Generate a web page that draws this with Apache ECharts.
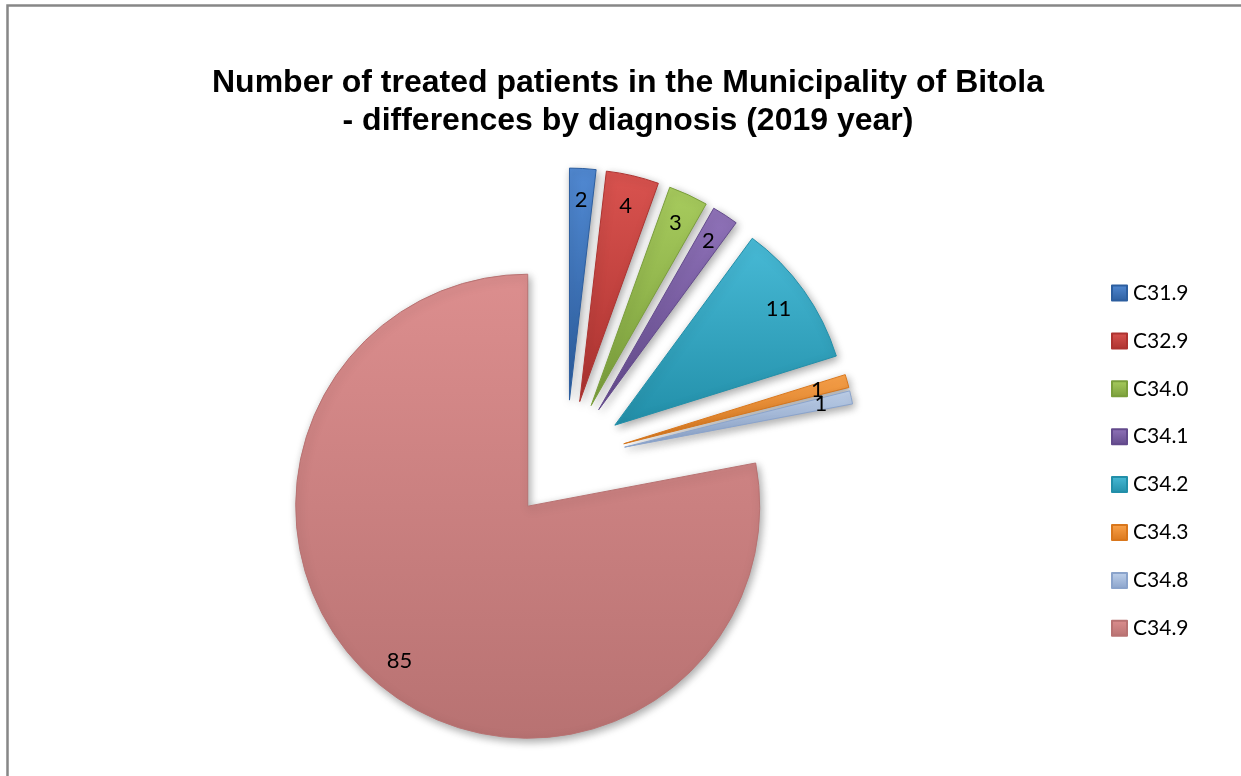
<!DOCTYPE html>
<html lang="en">
<head>
    <meta charset="UTF-8">
    <title>Treated patients - Bitola 2019</title>
    <script type="text/javascript" src="https://cdn.jsdelivr.net/npm/echarts@6/dist/echarts.min.js"></script>
    <style>
        html,body{
            margin: 0;
            padding: 0;
            background: #fff;
            overflow: hidden;
        }
        #chart{
            width: 1241px;
            height: 776px;
        }
    </style>
</head>
<body>
    <div id="chart"></div>
</body>
<script>
    // data
    var diagnoses=["C31.9","C32.9","C34.0","C34.1","C34.2","C34.3","C34.8","C34.9"];
    var patients=[2,4,3,2,11,1,1,85];
    // light / dark tone of each slice (office style palette)
    var topColors=["#5189d2","#d9534f","#a8cc5e","#9073b9","#48bad6","#fba34b","#c0d2ec","#dc8e8e"];
    var bottomColors=["#2c5e9f","#ad3330","#7a9e3b","#634a8c","#228fa9","#d9771c","#8aa3cb","#b87272"];

    var chart=echarts.init(document.getElementById("chart"));

    function grad(i){
        return new echarts.graphic.LinearGradient(0,0,0,1,[
            {offset:0,color:topColors[i]},
            {offset:1,color:bottomColors[i]}
        ]);
    }

    var pieData=[];
    var labelData=[];
    for(var i=0;i<diagnoses.length;i++){
        pieData.push({
            name:diagnoses[i],
            value:patients[i],
            selected:true,
            itemStyle:{color:grad(i),borderColor:bottomColors[i]}
        });
        labelData.push({
            name:diagnoses[i],
            value:patients[i],
            selected:true
        });
    }

    var option={
        animation:false,
        title:{
            text:"Number of treated patients in the Municipality of Bitola\n- differences by diagnosis (2019 year)",
            left:623,
            top:59,
            textAlign:'center',
            textStyle:{
                fontFamily:'Liberation Sans, Arial, sans-serif',
                fontWeight:'bold',
                fontSize:32,
                lineHeight:38,
                color:'#000'
            }
        },
        legend:{
            data:diagnoses,
            orient:'vertical',
            left:1106,
            top:277,
            itemWidth:15,
            itemHeight:15,
            itemGap:25.9,
            icon:'rect',
            selectedMode:false,
            textStyle:{
                fontFamily:'Lato, sans-serif',
                fontSize:21,
                lineHeight:22,
                color:'#000',
                padding:[0,0,0,1]
            }
        },
        graphic:[{
            type:'rect',
            z:-1,
            shape:{x:7.5,y:5.5,width:1400,height:900},
            style:{fill:'none',stroke:'#878787',lineWidth:2.5}
        }],
        series:[{
            type:'pie',
            center:[566,460],
            radius:232,
            startAngle:90,
            clockwise:true,
            selectedMode:'multiple',
            selectedOffset:60,
            silent:true,
            label:{show:false},
            labelLine:{show:false},
            itemStyle:{
                borderWidth:1,
                shadowBlur:8,
                shadowColor:'rgba(0,0,0,0.35)',
                shadowOffsetX:2,
                shadowOffsetY:3
            },
            emphasis:{disabled:true},
            data:pieData
        },{
            // transparent ring only to carry the value labels near the outer edge
            type:'pie',
            center:[566,460],
            radius:[164,232],
            startAngle:90,
            clockwise:true,
            selectedMode:'multiple',
            selectedOffset:60,
            silent:true,
            legendHoverLink:false,
            itemStyle:{color:'rgba(0,0,0,0)'},
            label:{
                show:true,
                position:'inside',
                formatter:'{c}',
                fontFamily:'Lato, sans-serif',
                fontSize:22,
                color:'#000'
            },
            labelLayout:{hideOverlap:false},
            labelLine:{show:false},
            emphasis:{disabled:true},
            data:labelData
        }]
    };
    chart.setOption(option);
</script>
</html>
